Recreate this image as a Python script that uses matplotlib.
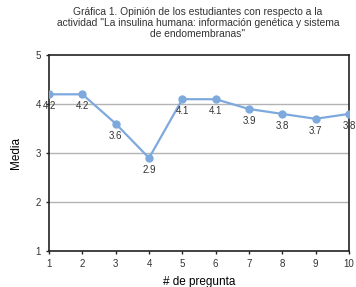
import matplotlib.pyplot as plt

preguntas = [1, 2, 3, 4, 5, 6, 7, 8, 9, 10]
medias = [4.2, 4.2, 3.6, 2.9, 4.1, 4.1, 3.9, 3.8, 3.7, 3.8]
etiquetas = ["4.2", "4.2", "3.6", "2.9", "4.1", "4.1", "3.9", "3.8", "3.7", "3.8"]

plt.rcParams["font.family"] = ["Liberation Sans", "DejaVu Sans"]

fig = plt.figure(figsize=(3.56, 2.87), dpi=100)
ax = fig.add_axes([0.138, 0.125, 0.842, 0.683])

ax.plot(preguntas, medias, color="#7ea9dc", linewidth=1.6, marker="o",
        markersize=5, zorder=3)
for x, y, t in zip(preguntas, medias, etiquetas):
    ax.annotate(t, (x, y), xytext=(0, -5), textcoords="offset points",
                ha="center", va="top", fontsize=7, color="#333333")

ax.set_xlim(1, 10)
ax.set_ylim(1, 5)
ax.set_xticks(preguntas)
ax.set_yticks([1, 2, 3, 4, 5])
for v in [2, 3, 4]:
    ax.axhline(v, color="#b3b3b3", linewidth=1.0, zorder=1)
for s in ax.spines.values():
    s.set_linewidth(1.2)
    s.set_color("#222222")
ax.tick_params(labelsize=7, length=2.5, width=1, colors="#222222",
               labelcolor="#333333")

ax.set_xlabel("# de pregunta", fontsize=8.5, labelpad=5)
ax.set_ylabel("Media", fontsize=8.5, labelpad=10)
fig.text(0.556, 0.975,
         "Gráfica 1. Opinión de los estudiantes con respecto a la\n"
         "actividad \"La insulina humana: información genética y sistema\n"
         "de endomembranas\"",
         ha="center", va="top", fontsize=7.4, color="#333333", linespacing=1.1)

fig.savefig("out.png", dpi=100)
